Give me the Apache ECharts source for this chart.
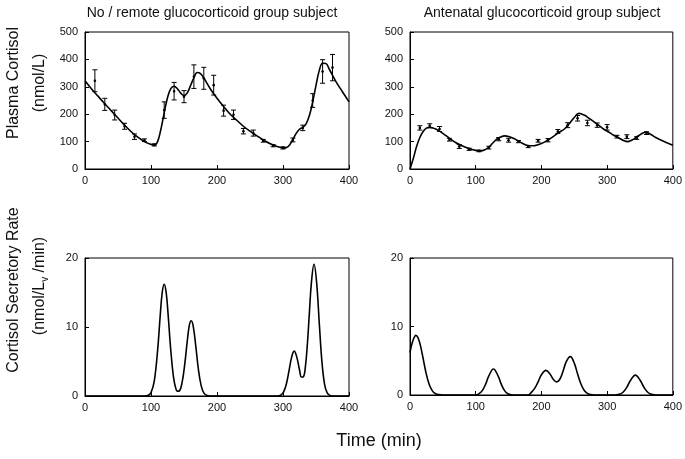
<!DOCTYPE html>
<html>
<head>
<meta charset="utf-8">
<script src="https://cdn.jsdelivr.net/npm/echarts@6/dist/echarts.min.js"></script>
<style>html,body{margin:0;padding:0;background:#fff}#c{width:685px;height:459px}</style>
</head>
<body>
<div id="c"></div>
<script>
// ---- Top-left: plasma cortisol, no/remote glucocorticoid subject ----
var tlTime  = [0,10,20,30,40,50,60,70,80,90,100,105,110,115,120,125,130,135,140,145,150,155,160,165,170,175,180,190,200,210,220,230,240,250,260,270,280,290,300,305,310,315,320,325,330,335,340,345,350,355,360,365,370,380,390,400];
var tlCurve = [322,292,265,238,212,186,160,136,116,100,90,87,100,145,205,260,293,302,293,277,268,278,305,333,352,348,332,292,258,228,200,178,156,138,122,106,93,83,77,78,88,108,130,145,152,165,195,245,305,360,386,385,365,320,282,245];
var tlObsTime = [15,30,45,60,75,90,105,120,135,150,165,180,195,210,225,240,255,270,285,300,315,330,345,360,375];
var tlObsMean = [322,236,197,156,118,105,88,215,284,264,337,331,306,213,198,138,131,103,85,77,106,150,250,356,370];
var tlObsErr  = [40,22,18,11,10,5,4,30,32,22,43,40,36,20,17,10,11,5,4,4,7,10,25,43,48];

// ---- Top-right: plasma cortisol, antenatal glucocorticoid subject ----
var trTime  = [0,5,10,15,20,25,30,35,40,50,60,70,80,90,100,107,114,120,126,132,138,144,150,160,168,175,182,188,194,200,206,212,220,227,235,242,250,257,265,272,280,288,295,303,310,318,325,331,338,344,352,359,366,374,385,400];
var trCurve = [0,38,82,115,137,149,152,150,145,130,112,96,84,75,68,66,70,80,95,109,117,121,119,109,98,89,85,85,88,93,100,109,122,134,146,164,188,203,197,186,172,158,145,134,123,113,104,100,106,115,128,134,127,115,102,87];
var trObsTime = [15,30,45,60,75,90,105,120,135,150,165,180,195,210,225,240,255,270,285,300,315,330,345,360];
var trObsMean = [150,158,146,107,82,72,66,78,109,105,100,82,103,105,137,160,185,168,160,152,118,118,113,131];
var trObsErr  = [8,7,9,5,7,4,3,5,6,7,4,4,5,6,7,9,10,10,8,10,5,7,5,5];

// ---- Bottom-left: secretory rate, no/remote subject ----
var blTime = [0,90,95,100,105,110,114,117,120,123,126,130,134,137,140,143,147,151,155,158,161,164,168,172,176,180,185,190,292,297,301,305,309,313,317,321,325,328,331,334,337,340,343,347,351,355,359,363,367,372,378,400];
var blRate = [0,0,0.06,0.5,2.2,6.6,11.7,15,16.2,15,11.7,6.6,2.8,1.3,0.7,0.75,1.9,4.5,8.0,10.2,10.9,10.1,7.1,3.7,1.5,0.45,0.06,0,0,0.15,0.59,1.7,3.6,5.6,6.5,5.6,3.8,2.75,2.8,4.3,7.6,12.1,16.4,19.1,16.4,10.5,4.95,1.7,0.45,0.05,0,0];

// ---- Bottom-right: secretory rate, antenatal subject ----
var brTime = [0,4,9,14,19,24,29,34,39,44,50,100,105,110,115,120,127,134,139,144,149,155,160,180,185,190,195,200,207,213,218,223,228,233,238,244,250,255,260,265,270,275,280,310,315,320,325,330,336,343,350,356,361,366,371,376,400];
var brRate = [6.2,7.8,8.7,7.9,5.8,3.4,1.6,0.6,0.18,0.05,0,0,0.19,0.64,1.56,2.8,3.8,2.8,1.56,0.64,0.19,0.03,0,0,0.42,1.0,1.93,2.95,3.6,3.08,2.3,1.9,2.3,3.5,4.9,5.6,4.65,3.1,1.65,0.7,0.24,0.06,0,0,0.04,0.15,0.48,1.13,2.2,2.9,2.2,1.13,0.48,0.15,0.04,0,0];

// ---- Axis ticks ----
var timeTicks = [0,100,200,300,400];
var cortisolTicks = [0,100,200,300,400,500];
var rateTicks = [0,10,20];

function pairs(xs, ys){ return xs.map(function(x,i){ return [x, ys[i]]; }); }
function triples(xs, ms, es){ return xs.map(function(x,i){ return [x, ms[i], es[i]]; }); }

var FONT = 'Liberation Sans, Arial, Helvetica, sans-serif';
var grids = [
  {left:85, top:32, width:264, height:137},
  {left:410, top:32, width:264, height:137},
  {left:85, top:258, width:264, height:138},
  {left:410, top:258, width:264, height:137}
];
grids.forEach(function(g){ g.show = true; g.borderColor = '#000'; g.borderWidth = 1; g.backgroundColor='transparent'; g.containLabel=false; });

function xAxis(idx){
  return {type:'value', gridIndex:idx, min:timeTicks[0], max:timeTicks[timeTicks.length-1], interval:timeTicks[1]-timeTicks[0],
    axisLine:{show:true, lineStyle:{color:'#000', width:1}},
    axisTick:{show:true, inside:true, length:4, lineStyle:{color:'#000'}},
    axisLabel:{color:'#111', fontSize:11, fontFamily:FONT, margin:6},
    splitLine:{show:false}};
}
function yAxis(idx, ticks){
  return {type:'value', gridIndex:idx, min:ticks[0], max:ticks[ticks.length-1], interval:ticks[1]-ticks[0],
    axisLine:{show:true, lineStyle:{color:'#000', width:1}},
    axisTick:{show:true, inside:true, length:4, lineStyle:{color:'#000'}},
    axisLabel:{color:'#111', fontSize:11, fontFamily:FONT, margin:7},
    splitLine:{show:false}};
}
function curve(idx, data){
  return {type:'line', xAxisIndex:idx, yAxisIndex:idx, data:data, symbol:'none', smooth:0.4,
    lineStyle:{color:'#000', width:1.6}, silent:true, animation:false};
}
function errBars(idx, data){
  return {type:'custom', xAxisIndex:idx, yAxisIndex:idx, data:data, animation:false, silent:true,
    encode:{x:0, y:1},
    renderItem:function(params, api){
      var x = api.value(0), m = api.value(1), e = api.value(2);
      var t = api.coord([x, m+e]), b = api.coord([x, m-e]), c = api.coord([x, m]);
      var w = 2.5, st = {stroke:'#000', lineWidth:1};
      return {type:'group', children:[
        {type:'line', shape:{x1:t[0], y1:t[1], x2:b[0], y2:b[1]}, style:st},
        {type:'line', shape:{x1:t[0]-w, y1:t[1], x2:t[0]+w, y2:t[1]}, style:st},
        {type:'line', shape:{x1:b[0]-w, y1:b[1], x2:b[0]+w, y2:b[1]}, style:st},
        {type:'circle', shape:{cx:c[0], cy:c[1], r:1.3}, style:{fill:'#000'}}
      ]};
    }};
}

function txt(x, y, text, size, rot){
  return {type:'text', x:x, y:y, rotation:rot||0, silent:true,
    style:{text:text, font: size+'px ' + FONT, fill:'#111', textAlign:'center', textVerticalAlign:'middle', align:'center', verticalAlign:'middle'}};
}

var chart = echarts.init(document.getElementById('c'), null, {renderer:'canvas'});
chart.setOption({
  animation:false,
  backgroundColor:'#fff',
  grid: grids,
  xAxis: [xAxis(0), xAxis(1), xAxis(2), xAxis(3)],
  yAxis: [yAxis(0, cortisolTicks), yAxis(1, cortisolTicks), yAxis(2, rateTicks), yAxis(3, rateTicks)],
  series: [
    curve(0, pairs(tlTime, tlCurve)),
    errBars(0, triples(tlObsTime, tlObsMean, tlObsErr)),
    curve(1, pairs(trTime, trCurve)),
    errBars(1, triples(trObsTime, trObsMean, trObsErr)),
    curve(2, pairs(blTime, blRate)),
    curve(3, pairs(brTime, brRate))
  ],
  graphic: [
    txt(212, 13, 'No / remote glucocorticoid group subject', 14),
    txt(542, 13, 'Antenatal glucocorticoid group subject', 14),
    txt(379, 441, 'Time (min)', 18),
    txt(14, 83, 'Plasma Cortisol', 16, Math.PI/2),
    txt(40, 83, '(nmol/L)', 16, Math.PI/2),
    txt(14, 290, 'Cortisol Secretory Rate', 16, Math.PI/2),
    {type:'text', x:40, y:286, rotation:Math.PI/2, silent:true,
      style:{text:'{a|(nmol/L}{s|v}{a| /min)}', fill:'#111', textAlign:'center', textVerticalAlign:'middle', align:'center', verticalAlign:'middle',
        rich:{a:{fontSize:16, fontFamily:FONT, lineHeight:20, fill:'#111'}, s:{fontSize:10, fontFamily:FONT, lineHeight:10, verticalAlign:'bottom', fill:'#111'}}}}
  ]
});
</script>
</body>
</html>
